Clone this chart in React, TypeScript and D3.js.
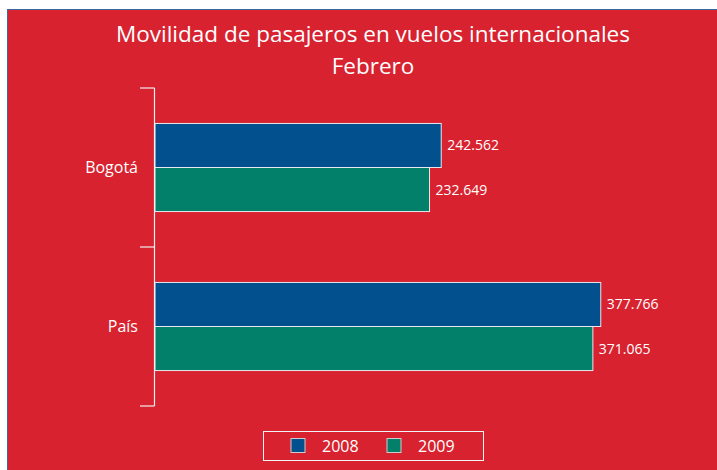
import { useEffect, useRef } from 'react';
import * as d3 from 'd3';

const categories = ['Bogotá', 'País'];
const years = ['2008', '2009'];
const values2008 = [242562, 377766];
const values2009 = [232649, 371065];
const colors = ['#02508e', '#02806a'];

export default function App() {
  const ref = useRef<SVGSVGElement>(null);

  useEffect(() => {
    const svg = d3.select(ref.current);
    svg.selectAll('*').remove();

    const W = 717, H = 470;
    const font = "'Open Sans', sans-serif";

    svg.append('rect')
      .attr('x', 7.5).attr('y', 9.5)
      .attr('width', W).attr('height', H)
      .attr('fill', '#d8222f')
      .attr('stroke', '#3f6a9c').attr('stroke-width', 1);

    const title = svg.append('text')
      .attr('text-anchor', 'middle')
      .attr('fill', '#fff')
      .attr('font-family', font)
      .attr('font-size', 22.5);
    title.append('tspan').attr('x', 373).attr('y', 42).text('Movilidad de pasajeros en vuelos internacionales');
    title.append('tspan').attr('x', 373).attr('y', 74).text('Febrero');

    const x = d3.scaleLinear().domain([0, 400000]).range([155, 155 + 472]);
    const y = d3.scaleBand().domain(categories).range([88, 406]).paddingInner(0.446).paddingOuter(0.223);
    const sub = d3.scaleBand().domain(years).range([0, y.bandwidth()]);

    const fmt = d3.formatLocale({ decimal: ',', thousands: '.', grouping: [3], currency: ['$', ''] }).format(',d');

    const rows = categories.map((c, i) => ({ c, vals: [values2008[i], values2009[i]] }));

    const g = svg.append('g');
    rows.forEach(r => {
      r.vals.forEach((v, j) => {
        const yy = (y(r.c) as number) + (sub(years[j]) as number);
        g.append('rect')
          .attr('x', x(0))
          .attr('y', yy)
          .attr('width', x(v) - x(0))
          .attr('height', sub.bandwidth())
          .attr('fill', colors[j])
          .attr('stroke', '#e8e8ee')
          .attr('stroke-width', 1);
        g.append('text')
          .attr('x', x(v) + 6)
          .attr('y', yy + sub.bandwidth() / 2 + 5)
          .attr('fill', '#fff')
          .attr('font-family', font)
          .attr('font-size', 14)
          .text(fmt(v));
      });
    });

    // axis
    const axisX = 154.5;
    const ax = svg.append('g').attr('stroke', '#f0f0f0').attr('stroke-width', 1.2);
    ax.append('line').attr('x1', axisX).attr('x2', axisX).attr('y1', 88).attr('y2', 406);
    const bounds = [88, 88 + y.step(), 406];
    bounds.forEach(b => {
      ax.append('line').attr('x1', 140).attr('x2', axisX).attr('y1', b).attr('y2', b);
    });
    categories.forEach(c => {
      svg.append('text')
        .attr('x', 138)
        .attr('y', (y(c) as number) + y.bandwidth() / 2 + 5)
        .attr('text-anchor', 'end')
        .attr('fill', '#fff')
        .attr('font-family', font)
        .attr('font-size', 16)
        .text(c);
    });

    // legend
    const lg = svg.append('g');
    lg.append('rect')
      .attr('x', 263.5).attr('y', 431.5).attr('width', 220).attr('height', 29)
      .attr('fill', 'none').attr('stroke', '#f4f4f4').attr('stroke-width', 1);
    const lx = d3.scaleOrdinal<string, number>().domain(years).range([291, 387]);
    years.forEach((yr, j) => {
      lg.append('rect')
        .attr('x', lx(yr)).attr('y', 438.5).attr('width', 14).attr('height', 14)
        .attr('fill', colors[j]).attr('stroke', '#ccc').attr('stroke-width', 1);
      lg.append('text')
        .attr('x', lx(yr) + 31).attr('y', 452)
        .attr('fill', '#fff')
        .attr('font-family', font)
        .attr('font-size', 16)
        .text(yr);
    });
  }, []);

  return (
    <svg ref={ref} width={717} height={470} style={{ position: 'absolute', left: 0, top: 0 }}></svg>
  );
}
